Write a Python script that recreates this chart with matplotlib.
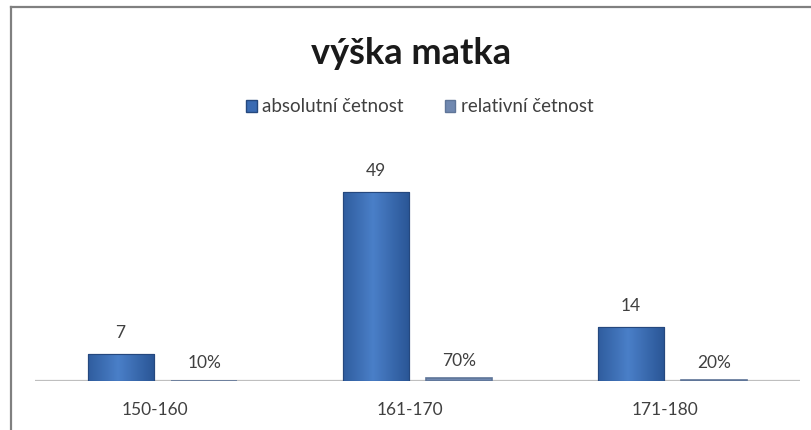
import numpy as np
import matplotlib
matplotlib.use("Agg")
import matplotlib.pyplot as plt
from matplotlib.patches import Rectangle
from matplotlib.lines import Line2D

plt.rcParams['font.family'] = ['Lato', 'DejaVu Sans']

title = "výška matka"
categories = ["150-160", "161-170", "171-180"]
series_names = ["absolutní četnost", "relativní četnost"]
absolute = [7, 49, 14]
relative = [0.10, 0.70, 0.20]
relative_labels = ["10%", "70%", "20%"]

abs_color = "#3A6BB3"
abs_edge = "#25487E"
rel_color = "#7088B0"
text_color = "#404040"

fig = plt.figure(figsize=(8.11, 4.30), dpi=100)
fig.patch.set_facecolor("white")

# chart frame (top and left edges)
fig.add_artist(Line2D([11/811, 11/811], [0, 1 - 7/430], transform=fig.transFigure,
                      color="#808080", lw=1.6))
fig.add_artist(Line2D([11/811, 1], [1 - 7/430, 1 - 7/430], transform=fig.transFigure,
                      color="#808080", lw=1.6))

ax = fig.add_axes([35/811, 49/430, 765/811, 231.6/430])
ax.set_xlim(-0.5, 2.5)
ax.set_ylim(0, 60)
ax.axis("off")

x = np.arange(len(categories))
w = 0.26
off = 0.164

bars = ax.bar(x - off, absolute, width=w, color=abs_color, edgecolor=abs_edge,
              linewidth=0.8, zorder=3)
rbars = ax.bar(x + off, relative, width=w, color=rel_color, edgecolor="#5F7598",
               linewidth=1.2, zorder=3)

# horizontal shading on the absolute bars
grad = np.linspace(0, 1, 64)
shade = 1 - 0.55 * np.abs(grad - 0.45) * 2
cmap = matplotlib.colors.LinearSegmentedColormap.from_list(
    "bar", ["#2A5696", "#4A7FC8"])
for b in bars:
    x0, y0 = b.get_x(), b.get_y()
    bw, bh = b.get_width(), b.get_height()
    im = ax.imshow(shade[np.newaxis, :], cmap=cmap, aspect="auto",
                   extent=[x0, x0 + bw, y0, y0 + bh], zorder=3.5, vmin=0.4, vmax=1)
    im.set_clip_path(b)
    ax.add_patch(Rectangle((x0, y0), bw, bh, fill=False, edgecolor=abs_edge,
                           linewidth=0.8, zorder=4))
ax.set_xlim(-0.5, 2.5)
ax.set_ylim(0, 60)

# category axis line
ax.axhline(0, color="#BFBFBF", lw=1.6, zorder=2)

for b, v in zip(bars, absolute):
    ax.annotate(str(v), (b.get_x() + b.get_width() / 2, v), xytext=(0, 9),
                textcoords="offset points", ha="center", va="bottom",
                fontsize=12.5, color=text_color)
for b, v, lab in zip(rbars, relative, relative_labels):
    ax.annotate(lab, (b.get_x() + b.get_width() / 2, v), xytext=(0, 7),
                textcoords="offset points", ha="center", va="bottom",
                fontsize=12.5, color=text_color)

for xi, c in zip(x, categories):
    ax.annotate(c, (xi - 0.03, 0), xytext=(0, -21), textcoords="offset points",
                ha="center", va="center", fontsize=12.5, color=text_color)

fig.text(0.5065, 1 - 53/430, title, ha="center", va="center", fontsize=26,
         fontweight="bold", color="#1A1A1A")

handles = [Rectangle((0, 0), 1, 1, facecolor=abs_color, edgecolor=abs_edge),
           Rectangle((0, 0), 1, 1, facecolor=rel_color, edgecolor="#5F7598")]
fig.legend(handles, series_names, loc="center", bbox_to_anchor=(0.518, 1 - 107/430),
           ncol=2, frameon=False, fontsize=13.5, handlelength=0.55, handleheight=0.55,
           handletextpad=0.3, columnspacing=2.2, labelcolor=text_color)

fig.savefig("out.png", dpi=100)
